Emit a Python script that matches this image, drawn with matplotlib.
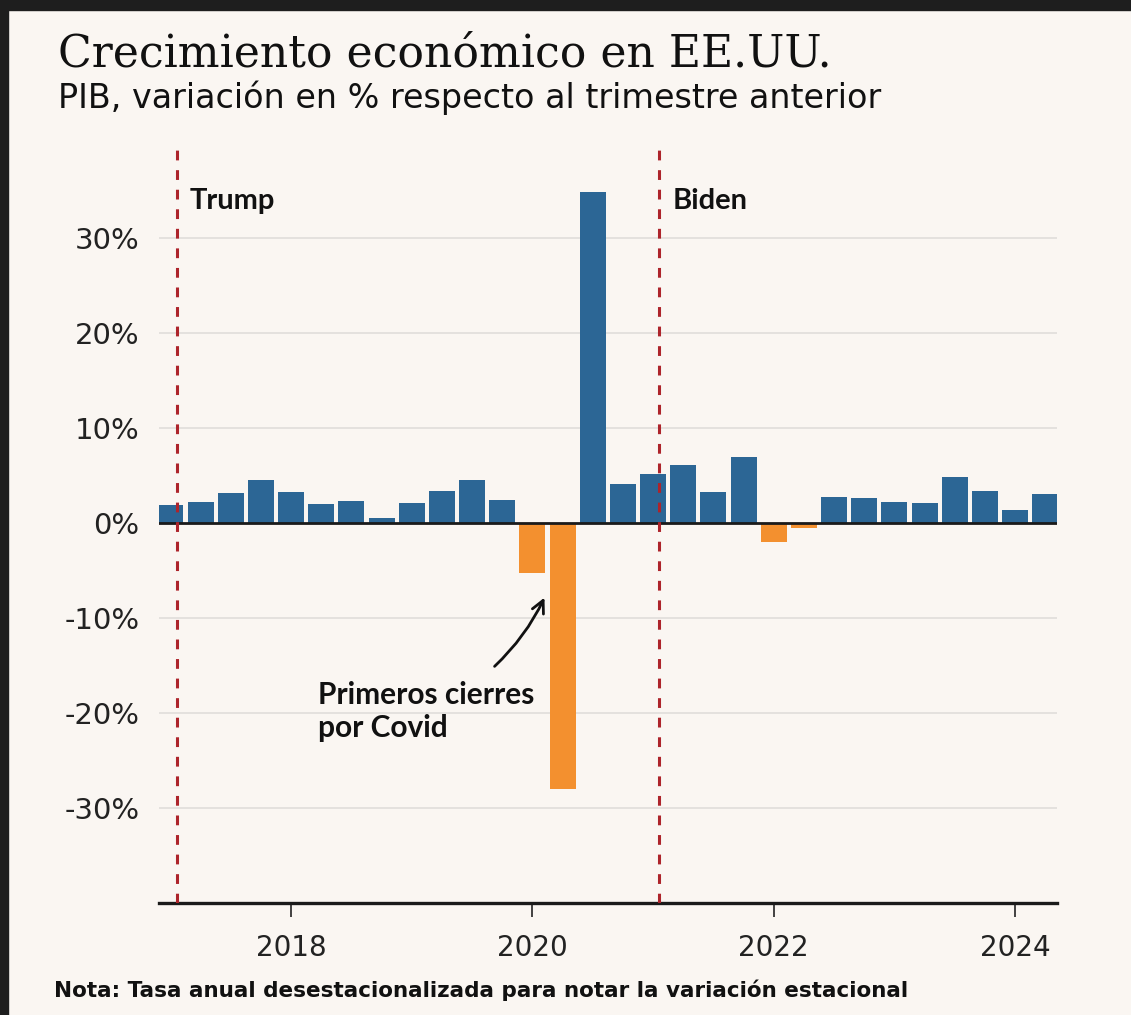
import numpy as np
import pandas as pd
import matplotlib
matplotlib.use("Agg")
import matplotlib.pyplot as plt
from matplotlib.patches import Rectangle

# Datos: PIB trimestral, tasa anualizada (%)
trimestres = pd.period_range("2017Q1", "2024Q2", freq="Q")
pib = [1.9, 2.2, 3.1, 4.5, 3.2, 2.0, 2.3, 0.5, 2.1, 3.3, 4.5, 2.4,
       -5.3, -28.0, 34.8, 4.1, 5.1, 6.1, 3.2, 6.9, -2.0, -0.5,
       2.7, 2.6, 2.2, 2.1, 4.8, 3.3, 1.3, 3.0]
inicio_mandato = [2017 + 19 / 365, 2021 + 19 / 365]
presidentes = ["Trump", "Biden"]
ticks_y = [-30, -20, -10, 0, 10, 20, 30]
ticks_x = [2018, 2020, 2022, 2024]

fondo = "#faf6f2"
azul = "#2c6695"
naranja = "#f3902f"
rojo = "#ad242b"

x = np.array([p.year + (p.quarter - 1) / 4 for p in trimestres])
pib = np.array(pib)
colores = [azul if v >= 0 else naranja for v in pib]

fig = plt.figure(figsize=(11.31, 10.15), dpi=100, facecolor=fondo)
ax = fig.add_axes([0.1406, 0.1103, 0.7940, 0.7417], facecolor=fondo)

# marco oscuro de la captura
fig.patches.append(Rectangle((0, 0.990), 1, 0.010, transform=fig.transFigure,
                             color="#1e1e1e", zorder=10))
fig.patches.append(Rectangle((0, 0), 0.007, 1, transform=fig.transFigure,
                             color="#1e1e1e", zorder=10))

for yv in ticks_y:
    if yv != 0:
        ax.axhline(yv, color="#dedbd8", lw=1.1, zorder=0)

ax.bar(x, pib, width=0.215, color=colores, linewidth=0, zorder=2)
ax.axhline(0, color="#1a1a1a", lw=2, zorder=3)

for xv, nombre in zip(inicio_mandato, presidentes):
    ax.axvline(xv, color=rojo, lw=2.2, linestyle=(0, (3.2, 3.2)), zorder=4)
    ax.text(xv + 0.11, 33.9, nombre, fontsize=21, fontweight="bold",
            family="Lato", va="center", ha="left", color="#111111")

ax.text(2018.22, -16.6, "Primeros cierres\npor Covid",
        fontsize=21.5, fontweight="bold", family="Lato", va="top", ha="left",
        linespacing=1.25, color="#111111")
ax.annotate("", xy=(2020.11, -7.6), xytext=(2019.67, -15.3),
            arrowprops=dict(arrowstyle="->", color="#111111", lw=2,
                            connectionstyle="arc3,rad=0.1", mutation_scale=22))

ax.set_xlim(2016.906, 2024.348)
ax.set_ylim(-40, 39.2)
ax.set_yticks(ticks_y)
ax.set_yticklabels([f"{v}%" for v in ticks_y])
ax.set_xticks(ticks_x)
ax.set_xticklabels([str(v) for v in ticks_x])
ax.tick_params(axis="y", length=0, pad=14, labelsize=21, labelcolor="#222222")
ax.tick_params(axis="x", length=10, width=1.3, color="#333333", pad=12,
               labelsize=20, labelcolor="#222222")

for s in ["top", "right", "left"]:
    ax.spines[s].set_visible(False)
ax.spines["bottom"].set_linewidth(2.4)
ax.spines["bottom"].set_color("#1a1a1a")

fig.text(0.051, 0.934, "Crecimiento económico en EE.UU.", family="DejaVu Serif",
         fontsize=31.8, va="baseline", ha="left", color="#111111")
fig.text(0.051, 0.8936, "PIB, variación en % respecto al trimestre anterior",
         family="DejaVu Sans", fontsize=24, va="baseline", ha="left", color="#111111")
fig.text(0.048, 0.0177, "Nota: Tasa anual desestacionalizada para notar la variación estacional",
         family="DejaVu Sans", fontsize=15.5, fontweight="bold", va="baseline", ha="left",
         color="#111111")

fig.savefig("out.png", dpi=100, facecolor=fondo)
